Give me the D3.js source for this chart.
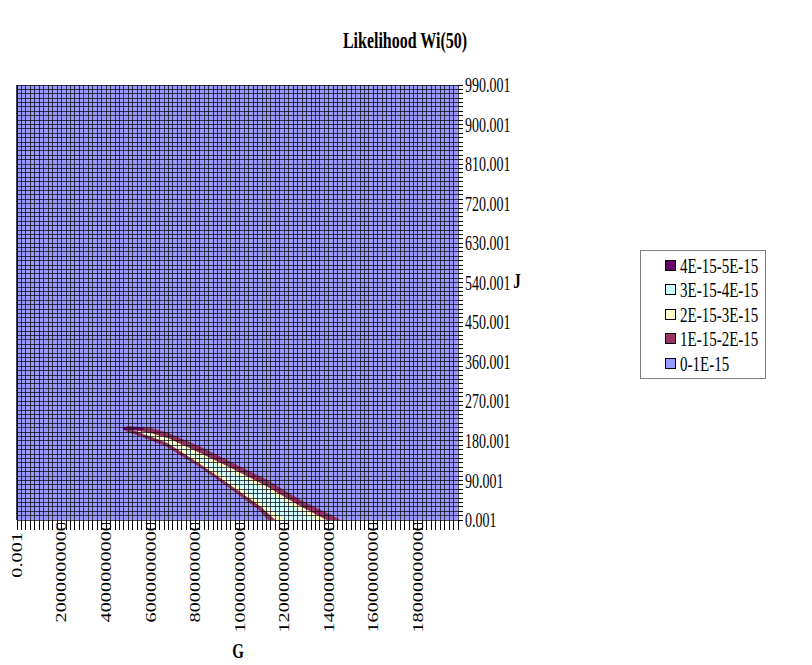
<!DOCTYPE html>
<html>
<head>
<meta charset="utf-8">
<script src="https://cdn.jsdelivr.net/npm/d3@7"></script>
<style>
    body { margin: 0; background: #fff; }
    text { font-family: 'Liberation Serif', 'Times New Roman', serif; fill: #000; }
</style>
</head>
<body>
<div id="chart"></div>
<script>
// categories (surface grid)
const gStep = 2e8, gCount = 100;
const jStep = 10, jCount = 100;
const gCats = d3.range(gCount).map(i => i * gStep + 0.001);
const jCats = d3.range(jCount).map(i => i * jStep + 0.001);

const gLabels = ['0.001', '2000000000', '4000000000', '6000000000', '8000000000', '10000000000', '12000000000', '14000000000', '16000000000', '18000000000'];
const jLabels = ['0.001', '90.001', '180.001', '270.001', '360.001', '450.001', '540.001', '630.001', '720.001', '810.001', '900.001', '990.001'];

// legend bands (top to bottom)
const bandNames = ['4E-15-5E-15', '3E-15-4E-15', '2E-15-3E-15', '1E-15-2E-15', '0-1E-15'];
const bandColors = ['#660066', '#CCFFFF', '#FFFFCC', '#993366', '#9999FF'];

// contour outlines, [G, J]
const band1 = [[4.72e9, 208], [4.94e9, 214], [5.98e9, 210], [6.74e9, 199], [8.22e9, 167], [9.70e9, 130], [11.24e9, 91], [12.72e9, 46], [14.20e9, 9], [14.52e9, 0],
    [11.28e9, 0], [10.86e9, 23], [9.66e9, 68], [8.18e9, 121], [6.70e9, 167], [5.62e9, 189], [4.94e9, 201]];
const band2 = [[5.2e9, 205], [6.0e9, 198], [6.8e9, 186], [8.2e9, 153], [9.7e9, 116], [11.2e9, 77], [12.7e9, 32], [13.9e9, 0],
    [11.6e9, 0], [10.95e9, 30], [9.65e9, 77], [8.15e9, 130], [6.75e9, 175], [5.75e9, 195]];
const band3 = [[5.4e9, 200], [6.0e9, 192], [6.8e9, 180], [8.2e9, 145], [9.7e9, 107], [11.2e9, 68], [12.6e9, 23], [13.4e9, 0],
    [12.0e9, 0], [11.1e9, 36], [9.7e9, 84], [8.2e9, 137], [6.8e9, 179], [5.8e9, 193]];
const band4 = [[4.8e9, 211], [5.7e9, 211], [5.7e9, 205], [4.8e9, 205]];

const W = 812, H = 665;
const plot = { left: 17, right: 458, top: 85, bottom: 520 };
const vStretch = 1.45;

const svg = d3.select('#chart').append('svg').attr('width', W).attr('height', H);

const x = d3.scaleLinear().domain([gCats[0], gCats[gCount - 1]]).range([plot.left, plot.right]);
const y = d3.scaleLinear().domain([jCats[0], jCats[jCount - 1]]).range([plot.bottom, plot.top]);

// text drawn a bit taller than wide, like the reference
function stretchedText(px, py, str, opts) {
    opts = opts || {};
    return svg.append('g')
        .attr('transform', `translate(${px},${py}) scale(1,${vStretch})`)
        .append('text')
        .attr('font-size', opts.size || 14)
        .attr('font-weight', opts.bold ? 'bold' : 'normal')
        .attr('text-anchor', opts.anchor || 'start')
        .attr('dy', '0.35em')
        .text(str);
}

// title
stretchedText(405, 40, 'Likelihood Wi(50)', { size: 16, bold: true, anchor: 'middle' });

// base surface
svg.append('rect')
    .attr('x', plot.left).attr('y', plot.top)
    .attr('width', plot.right - plot.left).attr('height', plot.bottom - plot.top)
    .attr('fill', bandColors[4]);

const line = d3.line().x(d => x(d[0])).y(d => y(d[1]));
const plotG = svg.append('g');
[[band1, bandColors[3]], [band2, bandColors[2]], [band3, bandColors[1]], [band4, bandColors[0]]].forEach(b => {
    plotG.append('path').attr('d', line(b[0]) + 'Z').attr('fill', b[1]);
});

// grid lines at every category
const grid = svg.append('g').attr('stroke', '#000').attr('stroke-opacity', 0.7).attr('stroke-width', 1).attr('shape-rendering', 'crispEdges');
gCats.forEach(g => {
    grid.append('line').attr('x1', x(g)).attr('x2', x(g)).attr('y1', plot.top).attr('y2', plot.bottom);
});
jCats.forEach(j => {
    grid.append('line').attr('x1', plot.left).attr('x2', plot.right).attr('y1', y(j)).attr('y2', y(j));
});
svg.append('line').attr('x1', plot.left).attr('x2', plot.left).attr('y1', plot.top).attr('y2', plot.bottom)
    .attr('stroke', '#000').attr('stroke-width', 1.5);

// ticks
const ticks = svg.append('g').attr('stroke', '#000').attr('stroke-width', 1).attr('shape-rendering', 'crispEdges');
gCats.forEach(g => {
    ticks.append('line').attr('x1', x(g)).attr('x2', x(g)).attr('y1', plot.bottom).attr('y2', plot.bottom + 10);
});
jCats.forEach(j => {
    ticks.append('line').attr('x1', plot.right).attr('x2', plot.right + 5).attr('y1', y(j)).attr('y2', y(j));
});

// J axis labels (right)
jLabels.forEach((lab, i) => {
    stretchedText(plot.right + 7, y(jCats[i * 9]), lab, { size: 14 });
});

// G axis labels (rotated, clipped at the tick area)
svg.append('clipPath').attr('id', 'gclip').append('rect')
    .attr('x', 0).attr('y', plot.bottom + 3).attr('width', W).attr('height', H);
const gLab = svg.append('g').attr('clip-path', 'url(#gclip)');
gLabels.forEach((lab, i) => {
    const px = x(gCats[i * 10]);
    const top = i === 0 ? plot.bottom + 12 : plot.bottom + 1;
    gLab.append('g')
        .attr('transform', `translate(${px},${top}) scale(1,${vStretch}) rotate(-90)`)
        .append('text')
        .attr('font-size', 14)
        .attr('text-anchor', 'end')
        .attr('dy', '0.35em')
        .text(lab);
});

// axis titles
stretchedText(238, 650, 'G', { size: 15, bold: true, anchor: 'middle' });
stretchedText(517, 280, 'J', { size: 15, bold: true, anchor: 'middle' });

// legend
const leg = { x: 640, y: 250, w: 125, h: 128 };
svg.append('rect').attr('x', leg.x).attr('y', leg.y).attr('width', leg.w).attr('height', leg.h)
    .attr('fill', '#fff').attr('stroke', '#808080').attr('stroke-width', 1).attr('shape-rendering', 'crispEdges');
bandNames.forEach((name, i) => {
    const cy = leg.y + 15 + i * 24.5;
    svg.append('rect').attr('x', leg.x + 25).attr('y', cy - 5).attr('width', 10).attr('height', 10)
        .attr('fill', bandColors[i]).attr('stroke', '#000').attr('stroke-width', 1).attr('shape-rendering', 'crispEdges');
    stretchedText(leg.x + 40, cy, name, { size: 15 });
});
</script>
</body>
</html>
